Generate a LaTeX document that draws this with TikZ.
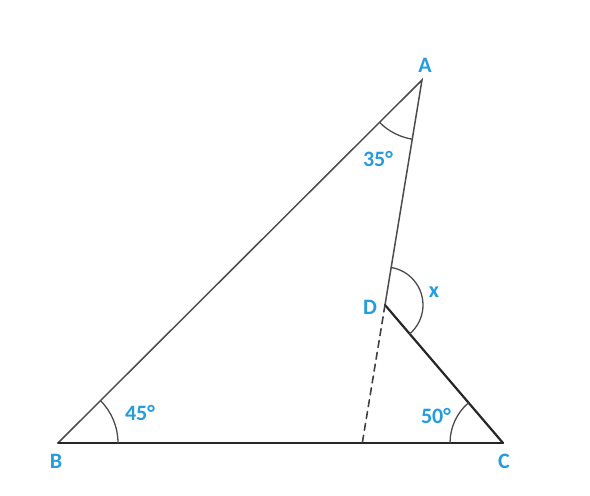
\documentclass[tikz,border=0pt]{standalone}
\usepackage{fontspec}
\setmainfont{Carlito}
\usetikzlibrary{angles}
\definecolor{labelblue}{RGB}{36,156,222}
\begin{document}
\begin{tikzpicture}[x=1pt,y=1pt,line cap=round,
  side/.style={draw=black!70,line width=1.5pt},
  sidedark/.style={draw=black!85,line width=2.2pt},
  arcmark/.style={draw=black!70,line width=1.3pt},
  lbl/.style={text=labelblue,font=\bfseries\fontsize{22}{24}\selectfont,inner sep=0pt}]
\useasboundingbox (0,0) rectangle (590,496);
\coordinate (A) at (422,416);
\coordinate (B) at (58,53);
\coordinate (C) at (503,53);
\coordinate (D) at (385,191);
\coordinate (E) at (intersection of A--D and B--C);
\draw[side] (B) -- (A) -- (D);
\draw[sidedark] (D) -- (C);
\draw[draw=black!85,line width=1.8pt] (B) -- (C);
\draw[draw=black!75,line width=1.6pt,dash pattern=on 7pt off 5pt] (D) -- (E);
\pic[arcmark,angle radius=60pt]{angle=C--B--A};
\pic[arcmark,angle radius=53pt]{angle=D--C--B};
\pic[arcmark,angle radius=60pt]{angle=B--A--D};
\pic[arcmark,angle radius=38pt]{angle=C--D--A};
\node[lbl] (lA) at (425,431) {A};
\node[lbl] (lB) at (56,35) {B};
\node[lbl] (lC) at (504,35) {C};
\node[lbl] (lD) at (370,189) {D};
\node[lbl] (lx) at (434,204) {x};
\node[lbl] (l45) at (140,83) {45°};
\node[lbl] (l50) at (436,80) {50°};
\node[lbl] (l35) at (378,337) {35°};
\end{tikzpicture}
\end{document}
